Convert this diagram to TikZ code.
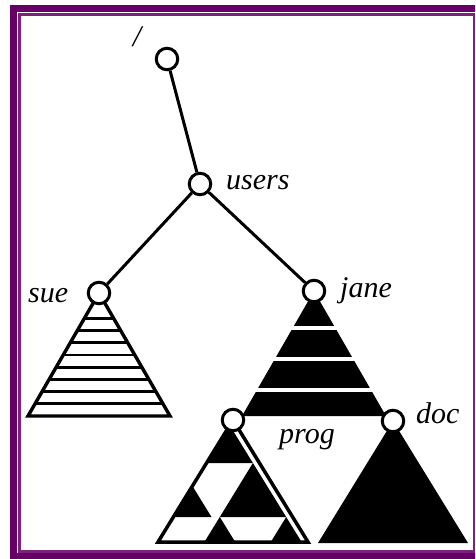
\documentclass[tikz,border=0pt]{standalone}
\usepackage{fontspec}
\setmainfont{Liberation Serif}
\usetikzlibrary{backgrounds}
\definecolor{framedark}{HTML}{660066}
\definecolor{framethin}{HTML}{7B237B}
\begin{document}
\begin{tikzpicture}[x=1pt,y=-1pt,
  vert/.style={circle,draw,fill=white,line width=3pt,minimum size=21.5pt,inner sep=0pt},
  edge/.style={line width=3pt},
  lbl/.style={font=\fontsize{30}{36}\selectfont\itshape,inner sep=0pt,anchor=base west},
  tri/.style={line width=3.4pt,line join=miter},
  stripe/.style={line width=2.8pt}]
\useasboundingbox (0,0) rectangle (475,559);
\clip (0,0) rectangle (475,559);
% frame
\draw[framedark,line width=7pt] (13.5,8.5) rectangle (500,556.5);
\draw[framethin,line width=2.5pt] (19.5,14.5) rectangle (474,551.5);
% vertices
\node[vert] (root) at (167,59) {};
\node[vert] (users) at (200,184) {};
\node[vert] (sue) at (99,293) {};
\node[vert] (jane) at (314,291) {};
\node[vert] (prog) at (233,420) {};
\node[vert] (doc) at (393,421) {};
% labels
\node[lbl,anchor=base] (lroot) at (137,47) {/};
\node[lbl] (lusers) at (226,189) {users};
\node[lbl] (lsue) at (28,302) {sue};
\node[lbl] (ljane) at (340,297) {jane};
\node[lbl] (lprog) at (279,443) {prog};
\node[lbl] (ldoc) at (416,423) {doc};
\begin{scope}[on background layer]
  \fill[white] (0,0) rectangle (475,559);
  \draw[edge] (root) -- (users);
  \draw[edge] (users) -- (sue);
  \draw[edge] (users) -- (jane);
  % sue subtree
  \begin{scope}[shift={(sue)}]
    \draw[tri] (0,0) -- (-71,123) -- (71,123) -- cycle;
    \foreach \yy in {25.4,37.6,49.8,62,74.2,86.4,98.6,110.8}
      \draw[stripe] ({-71*\yy/123},\yy) -- ({71*\yy/123},\yy);
  \end{scope}
  % jane subtree
  \begin{scope}[shift={(jane)}]
    \fill (0,0) -- (-72,125) -- (72,125) -- cycle;
    \foreach \yy in {37,68,99}
      \fill[white] ({-72*\yy/125-3},{\yy-2}) rectangle ({72*\yy/125+3},{\yy+2});
  \end{scope}
  % doc subtree
  \begin{scope}[shift={(doc)}]
    \fill (0,0) -- (-75,122) -- (75,122) -- cycle;
  \end{scope}
  % prog subtree
  \begin{scope}[shift={(prog)}]
    \fill (-3.3,5.3) -- (19.9,43) -- (-26.4,43) -- cycle;
    \fill (19.9,43) -- (53.2,97) -- (-13.2,97) -- cycle;
    \fill (-40.6,66) -- (-21.5,97) -- (-59.7,97) -- cycle;
    \fill (-13.2,97) -- (2.2,122) -- (-28.6,122) -- cycle;
    \fill (53.2,97) -- (68.6,122) -- (37.8,122) -- cycle;
    \draw[line width=3.5pt,line join=miter] (0,0) -- (-75,122) -- (75,122) -- cycle;
  \end{scope}
\end{scope}
\end{tikzpicture}
\end{document}
